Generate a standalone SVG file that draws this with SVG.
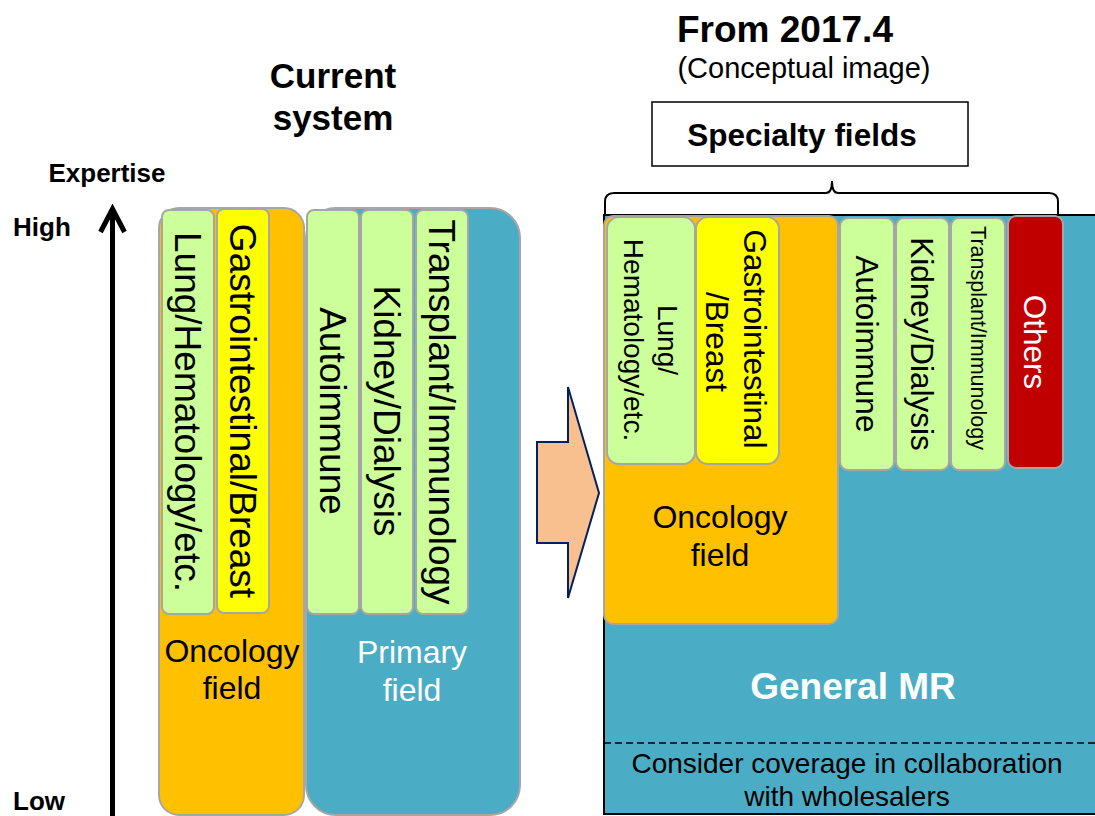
<svg xmlns="http://www.w3.org/2000/svg" width="1095" height="816" viewBox="0 0 1095 816">
<defs>
<style>
text{font-family:"Liberation Sans",Arial,sans-serif;fill:#000}
.b{font-weight:bold}
.w{fill:#fff}
.g{fill:#CCFF99;stroke:#A6A6A6;stroke-width:2}
.y{fill:#FFFF00;stroke:#A6A6A6;stroke-width:2}
.o{fill:#FFC000;stroke:#A6A6A6;stroke-width:2}
.t{fill:#4BACC6;stroke:#A6A6A6;stroke-width:2}
.r{fill:#C00000;stroke:#A6A6A6;stroke-width:2}
</style>
</defs>
<rect width="1095" height="816" fill="#fff"/>

<g id="titles">
<text class="b" x="333" y="88" font-size="35" text-anchor="middle">Current</text>
<text class="b" x="333" y="130" font-size="35" text-anchor="middle">system</text>
<text class="b" x="785" y="42" font-size="37" text-anchor="middle">From 2017.4</text>
<text x="804" y="78" font-size="29" text-anchor="middle">(Conceptual image)</text>
</g>

<g id="axis">
<text class="b" x="107" y="182" font-size="26" text-anchor="middle">Expertise</text>
<text class="b" x="13" y="236" font-size="26">High</text>
<text class="b" x="13" y="810" font-size="26">Low</text>
<line x1="112.5" y1="816" x2="112.5" y2="211" stroke="#000" stroke-width="5"/>
<polyline points="100.5,232 112.5,209 124.5,232" fill="none" stroke="#000" stroke-width="5" stroke-linejoin="miter"/>
</g>

<g id="current-oncology">
<rect class="o" x="159" y="208" width="145" height="607" rx="20"/>
<text x="232" y="662" font-size="32" text-anchor="middle">Oncology</text>
<text x="232" y="699" font-size="32" text-anchor="middle">field</text>
</g>
<g id="current-primary">
<rect class="t" x="306" y="208" width="214" height="607" rx="30"/>
<text class="w" x="412" y="663" font-size="32" text-anchor="middle">Primary</text>
<text class="w" x="412" y="701" font-size="32" text-anchor="middle">field</text>
</g>

<g id="c-lung">
<rect class="g" x="162" y="210" width="52" height="404" rx="7"/>
<text transform="translate(174.5,412) rotate(90)" font-size="37" text-anchor="middle">Lung/Hematology/etc.</text>
</g>
<g id="c-gastro">
<rect class="y" x="217" y="209" width="52" height="404" rx="7"/>
<text transform="translate(229.5,411) rotate(90)" font-size="37" text-anchor="middle">Gastrointestinal/Breast</text>
</g>
<g id="c-auto">
<rect class="g" x="307" y="210" width="52" height="404" rx="7"/>
<text transform="translate(319.5,411) rotate(90)" font-size="37" text-anchor="middle">Autoimmune</text>
</g>
<g id="c-kidney">
<rect class="g" x="361" y="210" width="52" height="404" rx="7"/>
<text transform="translate(373.5,411) rotate(90)" font-size="37" text-anchor="middle">Kidney/Dialysis</text>
</g>
<g id="c-transplant">
<rect class="g" x="416" y="210" width="52" height="404" rx="7"/>
<text transform="translate(428.5,412) rotate(90)" font-size="37" text-anchor="middle">Transplant/Immunology</text>
</g>

<g id="arrow">
<polygon points="537,442 568,442 568,387 599,493 568,598 568,543 537,543" fill="#F9C08F" stroke="#002060" stroke-width="2"/>
</g>

<g id="general-mr">
<rect x="604" y="215" width="500" height="599" fill="#4BACC6" stroke="#000" stroke-width="2"/>
<text class="b w" x="853" y="699" font-size="37" text-anchor="middle">General MR</text>
<line x1="604" y1="743" x2="1095" y2="743" stroke="#000" stroke-width="1.5" stroke-dasharray="7,4"/>
<text x="847" y="773" font-size="28" text-anchor="middle">Consider coverage in collaboration</text>
<text x="847" y="806" font-size="28" text-anchor="middle">with wholesalers</text>
</g>

<g id="new-oncology">
<rect class="o" x="604" y="216" width="234" height="408" rx="9"/>
<text x="720" y="528" font-size="32" text-anchor="middle">Oncology</text>
<text x="720" y="566" font-size="32" text-anchor="middle">field</text>
</g>

<g id="n-lung">
<rect class="g" x="607" y="217" width="88" height="247" rx="12"/>
<text transform="translate(658,340) rotate(90)" font-size="28" text-anchor="middle">Lung/</text>
<text transform="translate(624,340) rotate(90)" font-size="28" text-anchor="middle">Hematology/etc.</text>
</g>
<g id="n-gastro">
<rect class="y" x="696" y="217" width="83" height="247" rx="12"/>
<text transform="translate(744,339) rotate(90)" font-size="31.5" text-anchor="middle">Gastrointestinal</text>
<text transform="translate(706,342) rotate(90)" font-size="31.5" text-anchor="middle">/Breast</text>
</g>
<g id="n-auto">
<rect class="g" x="840" y="218" width="54" height="252" rx="8"/>
<text transform="translate(856,344) rotate(90)" font-size="31.5" text-anchor="middle">Autoimmune</text>
</g>
<g id="n-kidney">
<rect class="g" x="896" y="218" width="53" height="252" rx="8"/>
<text transform="translate(911,344) rotate(90)" font-size="31.5" text-anchor="middle">Kidney/Dialysis</text>
</g>
<g id="n-transplant">
<rect class="g" x="951" y="218" width="54" height="252" rx="8"/>
<text transform="translate(971,338) rotate(90)" font-size="21.5" text-anchor="middle">Transplant/Immunology</text>
</g>
<g id="n-others">
<rect class="r" x="1008" y="216" width="55" height="252" rx="8"/>
<text class="w" transform="translate(1024,342) rotate(90)" font-size="31.5" text-anchor="middle">Others</text>
</g>

<g id="specialty">
<rect x="652" y="102" width="316" height="64" fill="#fff" stroke="#000" stroke-width="1.5"/>
<text class="b" x="802" y="146" font-size="31.5" text-anchor="middle">Specialty fields</text>
<path d="M605,216 L605,202 Q605,193 614,193 L826,193 Q832,193 832,181 Q832,193 838,193 L1049,193 Q1058,193 1058,202 L1058,216" fill="none" stroke="#000" stroke-width="2"/>
</g>
</svg>
